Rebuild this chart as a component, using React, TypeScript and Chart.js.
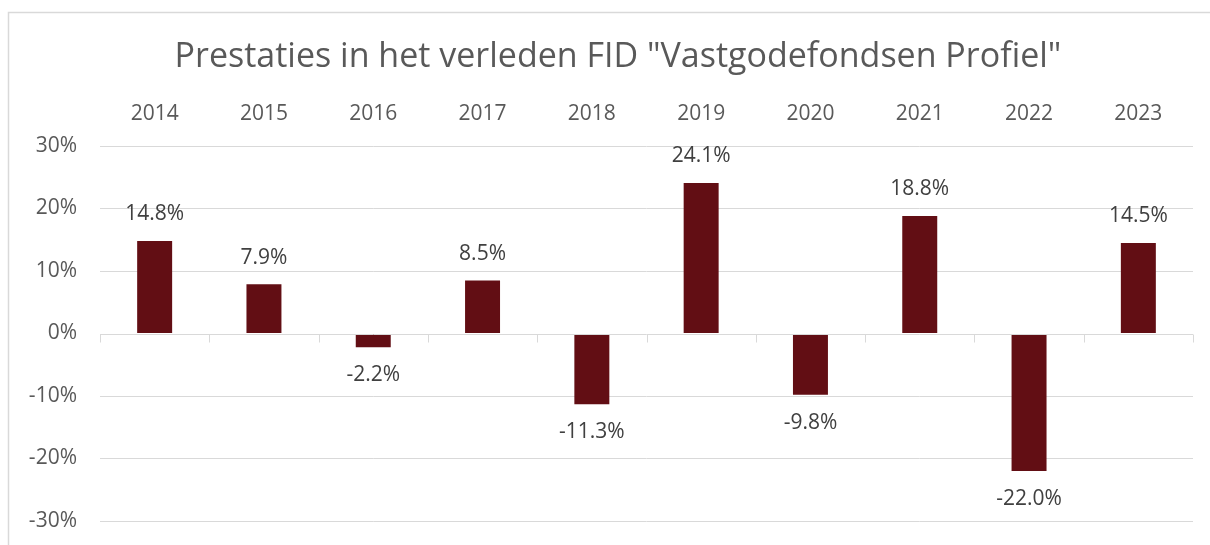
import React, { useEffect, useRef } from "react";
import { Chart, registerables } from "chart.js";

Chart.register(...registerables);

const years = ["2014", "2015", "2016", "2017", "2018", "2019", "2020", "2021", "2022", "2023"];
const returns = [14.8, 7.9, -2.2, 8.5, -11.3, 24.1, -9.8, 18.8, -22.0, 14.5];
const titleText = 'Prestaties in het verleden FID "Vastgodefondsen Profiel"';
const yMin = -30;
const yMax = 30;
const yStep = 10;

const FONT = "'Open Sans', sans-serif";
const W = 1210;
const H = 545;

const frame = {
  id: "frame",
  beforeDraw(chart: any) {
    const ctx = chart.ctx;
    ctx.save();
    ctx.strokeStyle = "#d9d9d9";
    ctx.lineWidth = 1.5;
    ctx.beginPath();
    ctx.moveTo(8.5, chart.height);
    ctx.lineTo(8.5, 12.5);
    ctx.lineTo(chart.width, 12.5);
    ctx.stroke();
    ctx.fillStyle = "#595959";
    ctx.font = `34px ${FONT}`;
    ctx.textAlign = "center";
    ctx.textBaseline = "middle";
    ctx.fillText(titleText, 618, 57);
    ctx.restore();
  },
};

const zeroAxis = {
  id: "zeroAxis",
  afterDatasetsDraw(chart: any) {
    const ctx = chart.ctx;
    const x = chart.scales.x;
    const y = chart.scales.y;
    const y0 = Math.round(y.getPixelForValue(0)) + 0.5;
    ctx.save();
    ctx.strokeStyle = "#d9d9d9";
    ctx.lineWidth = 1;
    ctx.beginPath();
    ctx.moveTo(chart.chartArea.left, y0);
    ctx.lineTo(chart.chartArea.right, y0);
    const n = years.length;
    const w = (chart.chartArea.right - chart.chartArea.left) / n;
    for (let i = 0; i <= n; i++) {
      const px = Math.round(x.getPixelForValue(i) - w / 2) + 0.5;
      ctx.moveTo(px, y0);
      ctx.lineTo(px, y0 + 8);
    }
    ctx.stroke();
    ctx.restore();
  },
};

const valueLabels = {
  id: "valueLabels",
  afterDatasetsDraw(chart: any) {
    const ctx = chart.ctx;
    const meta = chart.getDatasetMeta(0);
    ctx.save();
    ctx.font = `21px ${FONT}`;
    ctx.fillStyle = "#404040";
    ctx.textAlign = "center";
    ctx.textBaseline = "middle";
    meta.data.forEach((el: any, i: number) => {
      const v = returns[i];
      const ty = v >= 0 ? el.y - 26.5 : el.y + 28;
      ctx.fillText(v.toFixed(1) + "%", el.x, ty);
    });
    ctx.restore();
  },
};

export default function App() {
  const ref = useRef<HTMLCanvasElement>(null);
  useEffect(() => {
    if (!ref.current) return;
    const chart = new Chart(ref.current, {
      type: "bar",
      data: {
        labels: years,
        datasets: [
          {
            data: returns,
            backgroundColor: "#620e14",
            barPercentage: 0.32,
            categoryPercentage: 1,
          },
        ],
      },
      options: {
        animation: false,
        responsive: false,
        devicePixelRatio: 1,
        layout: { padding: { left: 0, right: 17, top: 0, bottom: 24 } },
        plugins: {
          legend: { display: false },
          tooltip: { enabled: false },
          title: { display: false },
        },
        scales: {
          x: {
            position: "top",
            grid: { display: false, drawTicks: false },
            border: { display: false },
            ticks: {
              color: "#595959",
              font: { family: FONT, size: 21 },
              padding: 19,
            },
            afterFit(scale: any) {
              scale.height = 146;
              scale.paddingLeft = 0;
              scale.paddingRight = 0;
            },
          },
          y: {
            min: yMin,
            max: yMax,
            grid: {
              color: (c: any) => (c.tick && c.tick.value === 0 ? "rgba(0,0,0,0)" : "#d9d9d9"),
              drawTicks: false,
              lineWidth: 1,
            },
            border: { display: false },
            ticks: {
              stepSize: yStep,
              color: "#595959",
              font: { family: FONT, size: 21 },
              padding: 23,
              callback: (v: any) => v + "%",
            },
            afterFit(scale: any) {
              scale.width = 100;
              scale.paddingTop = 0;
              scale.paddingBottom = 0;
            },
          },
        },
      },
      plugins: [frame, zeroAxis, valueLabels],
    });
    return () => chart.destroy();
  }, []);
  return (
    <div style={{ position: "fixed", left: 0, top: 0, width: W, height: H, background: "#fff" }}>
      <canvas ref={ref} width={W} height={H} style={{ display: "block", width: W, height: H }} />
    </div>
  );
}
